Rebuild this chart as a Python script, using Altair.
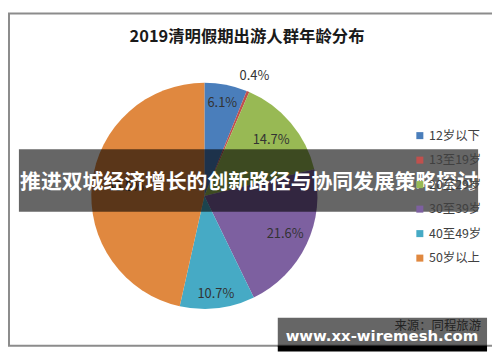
import altair as alt
import pandas as pd
import math

groups = ["12岁以下", "13至19岁", "20至29岁", "30至39岁", "40至49岁", "50岁以上"]
values = [6.1, 0.4, 14.7, 21.6, 10.7, 46.5]
labels = ["6.1%", "0.4%", "14.7%", "21.6%", "10.7%", "46.5%"]
label_radius = [95, 131, 88, 90, 100, 80]
colors = ["#4A7EBB", "#C0504D", "#98B954", "#7D60A0", "#46AAC5", "#E0883F"]

title_text = "2019清明假期出游人群年龄分布"
banner_text = "推进双城经济增长的创新路径与协同发展策略探讨"
source_text = "来源：同程旅游"
watermark_text = "www.xx-wiremesh.com"

FONT = "Noto Sans CJK SC"
W, H = 488, 346
CX, CY, R = 198, 188, 114

df = pd.DataFrame({
    "group": groups, "value": values, "label": labels,
    "r": label_radius, "idx": list(range(len(groups))),
})

one = alt.InlineData(values=[{"k": 0}])
theta_scale = alt.Scale(domain=[0, 100], range=[0, 2 * math.pi])

pie = alt.Chart(df).mark_arc(radius=R).encode(
    theta=alt.Theta("value:Q", stack=True, scale=theta_scale),
    order=alt.Order("idx:Q"),
    x=alt.value(CX), y=alt.value(CY),
    color=alt.Color("group:N", scale=alt.Scale(domain=groups, range=colors),
                    sort=groups,
                    legend=alt.Legend(title=None, orient="none", legendX=409, legendY=121,
                                      symbolType="square", symbolSize=50,
                                      symbolStrokeWidth=0,
                                      labelFontSize=12.5, labelFont=FONT,
                                      labelColor="#404040", rowPadding=11.7,
                                      labelOffset=3))
)

pie_labels = alt.Chart(df).transform_window(
    cum="sum(value)", sort=[alt.SortField("idx")], frame=[None, 0]
).transform_calculate(
    mid="datum.cum - datum.value / 2"
).mark_text(font=FONT, fontSize=13, color="#333333").encode(
    theta=alt.Theta("mid:Q", stack=None, scale=theta_scale),
    radius=alt.Radius("r:Q", scale=None),
    x=alt.value(CX), y=alt.value(CY),
    text="label:N",
)

border = alt.Chart(one).mark_rect(fill="white", stroke="#8c8c8c", strokeWidth=2).encode(
    x=alt.value(1), x2=alt.value(489), y=alt.value(4), y2=alt.value(339)
)

title = alt.Chart(one).mark_text(font=FONT, fontSize=16.5, fontWeight="bold",
                                 color="#1a1a1a").encode(
    x=alt.value(241), y=alt.value(28), text=alt.value(title_text)
)

source = alt.Chart(one).mark_text(font=FONT, fontSize=12.5, color="#595959",
                                  align="right").encode(
    x=alt.value(477), y=alt.value(319), text=alt.value(source_text)
)

banner = alt.Chart(one).mark_rect(fill="black", opacity=0.6).encode(
    x=alt.value(11), x2=alt.value(474), y=alt.value(141), y2=alt.value(204)
)

banner_label = alt.Chart(one).mark_text(font=FONT, fontSize=21, fontWeight="bold",
                                        color="white").encode(
    x=alt.value(243), y=alt.value(175), text=alt.value(banner_text)
)

wm_shadow = alt.Chart(one).mark_rect(fill="black").encode(
    x=alt.value(272), x2=alt.value(483), y=alt.value(339), y2=alt.value(345)
)

wm_box = alt.Chart(one).mark_rect(fill="black", opacity=0.6).encode(
    x=alt.value(272), x2=alt.value(483), y=alt.value(311), y2=alt.value(340)
)

wm_label = alt.Chart(one).mark_text(font="DejaVu Sans", fontSize=15, fontWeight="bold",
                                    color="white").encode(
    x=alt.value(377), y=alt.value(329), text=alt.value(watermark_text)
)

chart = alt.layer(
    border, title, pie, pie_labels, source, banner, banner_label,
    wm_shadow, wm_box, wm_label
).properties(
    width=W, height=H, padding=0, autosize=alt.AutoSizeParams(type="none")
).configure_view(stroke=None)

chart.save("out.html", embed_options={"renderer": "svg", "actions": False})
